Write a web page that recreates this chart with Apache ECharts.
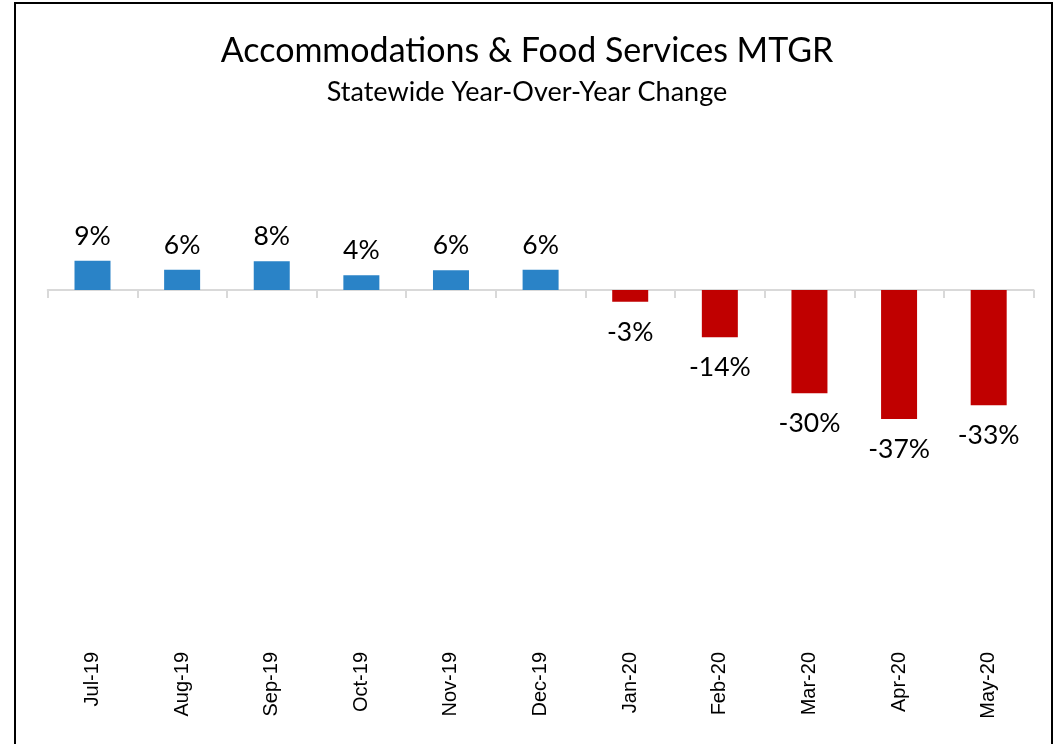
<!DOCTYPE html>
<html>
  <head>
    <title>Accommodations & Food Services MTGR</title>
    <meta http-equiv="content-type" content="text/html; charset=UTF-8">
    <script src="https://cdn.jsdelivr.net/npm/echarts@6/dist/echarts.min.js"></script>
    <style>
      html, body { margin: 0; padding: 0; background: #fff; }
      #main { width: 1054px; height: 744px; }
    </style>
  </head>
  <body>
    <div id="main"></div>
  <script type="text/javascript">

  // month labels along the bottom
  var months = ['Jul-19', 'Aug-19', 'Sep-19', 'Oct-19', 'Nov-19', 'Dec-19',
                'Jan-20', 'Feb-20', 'Mar-20', 'Apr-20', 'May-20'];
  // year-over-year change, percent
  var yoyChange = [8.5, 5.9, 8.3, 4.3, 5.7, 5.9, -3.4, -13.7, -29.9, -37.4, -33.4];

  var blue = '#2A83C7';
  var red = '#C00000';

  var barData = yoyChange.map(function(v){
    return {
      value: v,
      itemStyle: { color: v < 0 ? red : blue },
      label: { position: v < 0 ? 'bottom' : 'top', distance: v < 0 ? 17 : 11 }
    };
  });

  var myChart = echarts.init(document.getElementById('main'));
  var option = {
    backgroundColor: '#fff',
    animation: false,
    title: {
      text: 'Accommodations & Food Services MTGR',
      subtext: 'Statewide Year-Over-Year Change',
      left: 'center',
      top: 29,
      itemGap: 11,
      textStyle: { fontFamily: 'Lato', fontWeight: 'normal', fontSize: 34, color: '#000' },
      subtextStyle: { fontFamily: 'Lato', fontSize: 27, color: '#000' }
    },
    graphic: [{
      type: 'rect',
      shape: { x: 15, y: 3, width: 1037, height: 800 },
      style: { fill: 'none', stroke: '#000', lineWidth: 2 },
      silent: true
    }],
    grid: {
      left: 47.7,
      right: 20.5,
      top: 152,
      bottom: 109
    },
    xAxis: [{
      type: 'category',
      data: months,
      axisLine: { onZero: true, lineStyle: { color: '#d9d9d9', width: 2 } },
      axisTick: { show: true, length: 8, lineStyle: { color: '#d9d9d9', width: 2 } },
      axisLabel: { show: false }
    }, {
      type: 'category',
      data: months,
      position: 'bottom',
      axisLine: { show: false },
      axisTick: { show: false },
      axisLabel: {
        rotate: 90,
        interval: 0,
        margin: 17,
        fontFamily: 'Liberation Sans',
        fontSize: 20,
        color: '#000'
      }
    }],
    yAxis: {
      type: 'value',
      min: -100,
      max: 40,
      show: false,
      splitLine: { show: false }
    },
    series: [{
      type: 'bar',
      xAxisIndex: 0,
      barWidth: 36,
      data: barData,
      label: {
        show: true,
        fontFamily: 'Lato',
        fontSize: 26.5,
        color: '#000',
        formatter: function(p){ return Math.round(p.value) + '%'; }
      }
    }]
  };

  myChart.setOption(option);

  </script>
  </body>
</html>
